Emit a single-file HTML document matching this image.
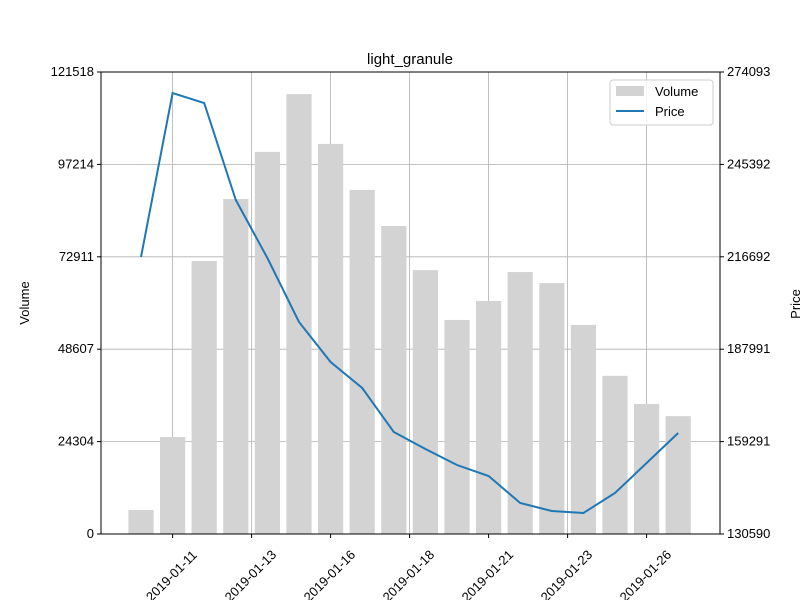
<!DOCTYPE html>
<html><head><meta charset="utf-8"><style>body{margin:0;background:#fff}svg{display:block;font-family:"Liberation Sans","DejaVu Sans",sans-serif}</style></head>
<body>
<svg id="chart" width="800" height="600" xmlns="http://www.w3.org/2000/svg">
<rect width="800" height="600" fill="#fff"/>
<text x="410" y="64" font-size="15" text-anchor="middle">light_granule</text>
<g id="grid"></g><g id="bars"></g><g id="line"></g><g id="axes"></g>
<text transform="translate(29,303) rotate(-90)" font-size="13" text-anchor="middle">Volume</text>
<text transform="translate(800,304) rotate(-90)" font-size="13" text-anchor="middle">Price</text>
<g>
<rect x="610" y="80" width="103" height="45" fill="#fff" fill-opacity="0.8" stroke="#ccc" rx="3"/>
<rect x="616" y="86" width="28" height="10" fill="#d3d3d3"/>
<text x="655" y="96" font-size="13">Volume</text>
<line x1="616" y1="111" x2="644" y2="111" stroke="#1f77b4" stroke-width="2"/>
<text x="655" y="116" font-size="13">Price</text>
</g>
</svg>
<script>
const categories=["2019-01-10","2019-01-11","2019-01-12","2019-01-13","2019-01-14","2019-01-15","2019-01-16","2019-01-17","2019-01-18","2019-01-19","2019-01-20","2019-01-21","2019-01-22","2019-01-23","2019-01-24","2019-01-25","2019-01-26","2019-01-27"];
const volume=[6300,25500,71800,88100,100500,115700,102600,90500,81000,69400,56300,61300,68900,66000,55000,41600,34200,31000];
const price=[216630,267560,264460,234330,216320,196440,184010,175940,162270,156990,152020,148600,140220,137730,137110,143320,152640,161960];
const xTickPos=[1,3.5,6,8.5,11,13.5,16];
const xTickLabels=["2019-01-11","2019-01-13","2019-01-16","2019-01-18","2019-01-21","2019-01-23","2019-01-26"];
const leftTicks=[0,24304,48607,72911,97214,121518];
const rightTicks=[130590,159291,187991,216692,245392,274093];
const NS="http://www.w3.org/2000/svg";
const L=101,R=720,T=72,B=534;
const x=i=>141+i*31.6;
const yL=v=>B-(v/121518)*(B-T);
const yR=v=>B-((v-130590)/(274093-130590))*(B-T);
function mk(tag,attrs,parent){const e=document.createElementNS(NS,tag);for(const k in attrs)e.setAttribute(k,attrs[k]);document.getElementById(parent).appendChild(e);return e;}
leftTicks.forEach((v,i)=>{const g=mk('line',{x1:L,x2:R,y1:yL(v),y2:yL(v),stroke:'#b0b0b0','stroke-width':0.8},'grid');


mk('line',{x1:L-4,x2:L,y1:yL(v),y2:yL(v),stroke:'#000'},'axes');
const t=mk('text',{x:L-7,y:yL(v)+4,'font-size':13,'text-anchor':'end'},'axes');t.textContent=v;

});
rightTicks.forEach(v=>{mk('line',{x1:R,x2:R+4,y1:yR(v),y2:yR(v),stroke:'#000'},'axes');
const t=mk('text',{x:R+7,y:yR(v)+4,'font-size':13},'axes');t.textContent=v;

});
xTickPos.forEach((p,i)=>{const xx=x(p);const g=mk('line',{x1:xx,x2:xx,y1:T,y2:B,stroke:'#b0b0b0','stroke-width':0.8},'grid');


mk('line',{x1:xx,x2:xx,y1:B,y2:B+4,stroke:'#000'},'axes');
const t=mk('text',{transform:`translate(${xx+2},${B+45}) rotate(-45)`,'font-size':13,'text-anchor':'middle'},'axes');t.textContent=xTickLabels[i];

});
volume.forEach((v,i)=>{const b=mk('rect',{x:x(i)-12.6,width:25.2,y:yL(v),height:B-yL(v),fill:'#d3d3d3'},'bars');

});
const pl=mk('polyline',{points:price.map((v,i)=>x(i)+','+yR(v)).join(' '),fill:'none',stroke:'#1f77b4','stroke-width':2},'line');


const fr=mk('rect',{x:L,y:T,width:R-L,height:B-T,fill:'none',stroke:'#000','stroke-width':1},'axes');


</script>
</body></html>
